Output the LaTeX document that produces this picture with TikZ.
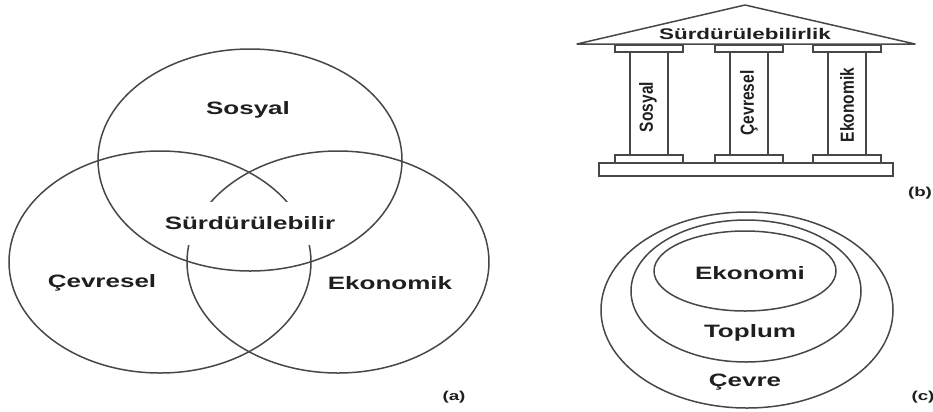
\documentclass[tikz,border=0pt]{standalone}
\usepackage{fontspec}
\newfontfamily\widesf{Liberation Sans}[FakeStretch=1.45]
\newfontfamily\narrowsf{Liberation Sans}[FakeStretch=0.82]
\usetikzlibrary{positioning}

\begin{document}
\begin{tikzpicture}[x=1bp,y=-1bp,
	line/.style={black!72,line width=1.5bp},
	lbl/.style={inner sep=0pt,text=black!88,font=\widesf\bfseries\fontsize{18}{18}\selectfont},
	tag/.style={inner sep=0pt,text=black!88,font=\widesf\bfseries\fontsize{13}{13}\selectfont},
	pillartext/.style={inner sep=0pt,rotate=90,text=black!88,font=\narrowsf\bfseries\fontsize{19}{19}\selectfont}]

	\useasboundingbox (0,0) rectangle (933,411);

	% (a) three circles
	\draw[line] (250,160) ellipse [x radius=152,y radius=111];
	\draw[line] (160,262) ellipse [x radius=151,y radius=111];
	\draw[line] (338,262) ellipse [x radius=151,y radius=111];

	\node[lbl] (sosyal) at (248,110) {Sosyal};
	\node[lbl] (cevresel) at (102,283) {Çevresel};
	\node[lbl] (ekonomik) at (390,283) {Ekonomik};
	\node[lbl,fill=white,minimum width=176bp,minimum height=43bp] (surd) at (250,223.5) {Sürdürülebilir};
	\node[tag] (taga) at (454,397) {(a)};

	% (b) temple
	\draw[line,line join=round] (577,44) -- (745,5) -- (915,44) -- cycle;
	\node[lbl,font=\widesf\bfseries\fontsize{15.5}{15.5}\selectfont] (roof) at (745,33.5) {Sürdürülebilirlik};

	\foreach \cx in {649,749,847}{
		\draw[line] (\cx-34,45) rectangle (\cx+34,52);
		\draw[line] (\cx-19,52) -- (\cx-19,155);
		\draw[line] (\cx+19,52) -- (\cx+19,155);
		\draw[line] (\cx-34,155) rectangle (\cx+34,163);
	}
	\draw[line] (599,163) rectangle (893,176);

	\node[pillartext] (psosyal) at (648,107) {Sosyal};
	\node[pillartext] (pcevresel) at (749,103) {Çevresel};
	\node[pillartext] (pekonomik) at (847,105) {Ekonomik};
	\node[tag] (tagb) at (920,193) {(b)};

	% (c) nested
	\draw[line] (747,310) ellipse [x radius=146,y radius=98];
	\draw[line] (746,291) ellipse [x radius=115,y radius=71];
	\draw[line] (745,271) ellipse [x radius=91,y radius=40];

	\node[lbl] (ekonomi) at (750,273) {Ekonomi};
	\node[lbl] (toplum) at (750,333) {Toplum};
	\node[lbl] (cevre) at (745,382) {Çevre};
	\node[tag] (tagc) at (923,397) {(c)};

\end{tikzpicture}
\end{document}
